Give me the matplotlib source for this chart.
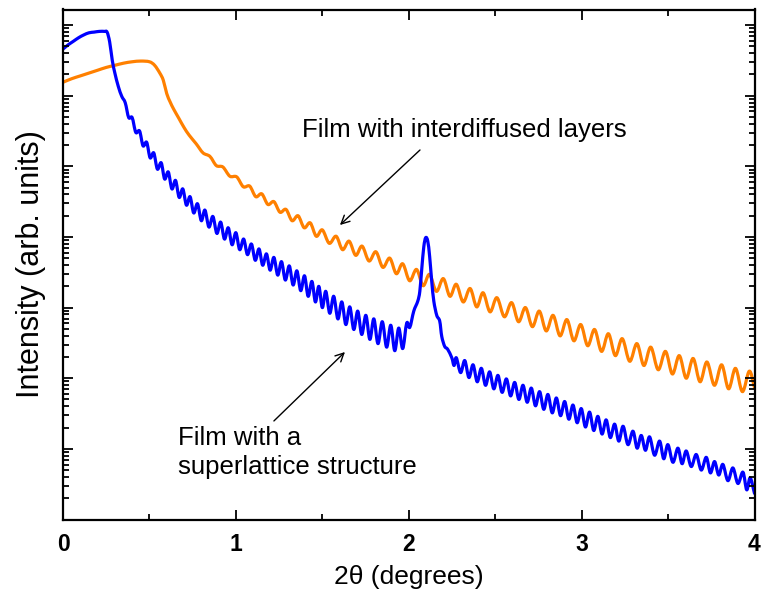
import numpy as np
import matplotlib
matplotlib.use("Agg")
import matplotlib.pyplot as plt
from matplotlib.path import Path
from matplotlib.patches import PathPatch
from matplotlib.ticker import LogLocator, NullFormatter, MultipleLocator

plt.rcParams['font.family'] = ['Liberation Sans', 'DejaVu Sans']

# ---- data: 2theta (degrees) and log10 intensity (arb. units) ----
orange_x = [0.00, 0.05, 0.10, 0.15, 0.20, 0.25, 0.30, 0.35, 0.40, 0.45, 0.50, 0.53, 0.56, 0.58,
            0.60, 0.62, 0.64, 0.67, 0.70, 0.73, 0.77,
            0.81, 0.85, 0.887, 0.925, 0.965, 1.005, 1.043, 1.08, 1.115, 1.15, 1.185, 1.22,
            1.255, 1.29, 1.325, 1.36, 1.395, 1.43, 1.465, 1.50, 1.54, 1.58, 1.617, 1.655,
            1.693, 1.73, 1.77, 1.81, 1.85, 1.89, 1.928, 1.965, 2.005, 2.045, 2.083, 2.12,
            2.16, 2.20, 2.238, 2.275, 2.315, 2.355, 2.393, 2.43, 2.47, 2.51, 2.553, 2.595,
            2.635, 2.675, 2.715, 2.755, 2.795, 2.835, 2.875, 2.915, 2.955, 2.995, 3.035, 3.075,
            3.115, 3.155, 3.195, 3.235, 3.278, 3.32, 3.36, 3.40, 3.443, 3.485, 3.525, 3.565,
            3.605, 3.645, 3.685, 3.725, 3.768, 3.81, 3.85, 3.89, 3.93, 3.97, 4.00]
orange_log = [6.19, 6.24, 6.28, 6.32, 6.36, 6.40, 6.43, 6.46, 6.48, 6.49, 6.48, 6.43, 6.32, 6.22,
              6.03, 5.91, 5.81, 5.68, 5.55, 5.44, 5.32,
              5.19, 5.14, 5.01, 4.99, 4.86, 4.85, 4.71, 4.72, 4.57, 4.61, 4.46, 4.50,
              4.35, 4.39, 4.23, 4.30, 4.13, 4.20, 4.01, 4.10, 3.91, 4.01, 3.82, 3.94,
              3.74, 3.87, 3.66, 3.79, 3.57, 3.70, 3.48, 3.62, 3.38, 3.54, 3.31, 3.47,
              3.23, 3.41, 3.16, 3.33, 3.08, 3.27, 3.01, 3.21, 2.94, 3.14, 2.87, 3.07,
              2.80, 3.00, 2.73, 2.95, 2.67, 2.89, 2.60, 2.83, 2.53, 2.76, 2.46, 2.69,
              2.38, 2.63, 2.32, 2.56, 2.24, 2.49, 2.18, 2.44, 2.12, 2.38, 2.06, 2.32,
              2.00, 2.28, 1.95, 2.23, 1.90, 2.19, 1.85, 2.14, 1.81, 2.10, 1.87]

blue_x = [0.00, 0.03, 0.06, 0.09, 0.12, 0.15, 0.18, 0.21, 0.24, 0.255, 0.27, 0.285, 0.30, 0.32,
          0.34, 0.36, 0.38, 0.40, 0.421, 0.443, 0.463, 0.484, 0.504, 0.525, 0.546, 0.568,
          0.588, 0.609, 0.63, 0.651, 0.672, 0.693, 0.714, 0.735, 0.756, 0.778, 0.80, 0.821,
          0.844, 0.867, 0.89, 0.912, 0.934, 0.956, 0.978, 1.0, 1.022, 1.045, 1.067, 1.09,
          1.112, 1.134, 1.155, 1.177, 1.198, 1.22, 1.242, 1.264, 1.286, 1.309, 1.331, 1.353,
          1.375, 1.397, 1.418, 1.44, 1.46, 1.48, 1.50, 1.52, 1.543, 1.566, 1.59, 1.613,
          1.636, 1.659, 1.682, 1.705, 1.728, 1.752, 1.775, 1.798, 1.822, 1.847, 1.872, 1.896,
          1.919, 1.942, 1.965,
          1.988, 2.006, 2.029, 2.052, 2.064, 2.075, 2.087, 2.098, 2.110, 2.121, 2.133, 2.145,
          2.162, 2.179, 2.191, 2.208, 2.225, 2.249, 2.262,
          2.275, 2.30, 2.324, 2.348, 2.372, 2.396, 2.42, 2.444, 2.468, 2.492, 2.516, 2.54,
          2.565, 2.589, 2.613, 2.637, 2.661, 2.685, 2.709, 2.733, 2.757, 2.781, 2.805, 2.83,
          2.854, 2.878, 2.902, 2.926, 2.95, 2.974, 2.998, 3.022, 3.046, 3.07, 3.094, 3.118,
          3.142, 3.166, 3.191, 3.215, 3.24, 3.268, 3.297, 3.321, 3.345, 3.369, 3.393, 3.422,
          3.451, 3.475, 3.499, 3.528, 3.557, 3.581, 3.605, 3.634, 3.663, 3.692, 3.721, 3.745,
          3.769, 3.793, 3.817, 3.846, 3.875, 3.904, 3.933, 3.955, 3.975, 4.00]
blue_log = [6.66, 6.72, 6.77, 6.82, 6.86, 6.89, 6.90, 6.91, 6.91, 6.90, 6.76, 6.50, 6.32, 6.13,
            5.99, 5.90, 5.69, 5.69, 5.48, 5.50, 5.29, 5.34, 5.12, 5.19, 4.96, 5.05,
            4.82, 4.92, 4.68, 4.80, 4.56, 4.68, 4.45, 4.57, 4.34, 4.47, 4.23, 4.38,
            4.14, 4.29, 4.05, 4.21, 3.97, 4.13, 3.89, 4.06, 3.82, 3.97, 3.75, 3.90,
            3.67, 3.83, 3.60, 3.76, 3.53, 3.71, 3.46, 3.65, 3.39, 3.59, 3.32, 3.52,
            3.24, 3.45, 3.16, 3.37, 3.08, 3.30, 3.00, 3.23, 2.92, 3.16, 2.84, 3.08,
            2.76, 3.01, 2.69, 2.95, 2.62, 2.89, 2.55, 2.84, 2.49, 2.80, 2.44, 2.75,
            2.39, 2.71, 2.42,
            2.78, 2.72, 2.95, 3.09, 3.23, 3.54, 3.86, 3.99, 3.94, 3.72, 3.37, 3.09,
            2.89, 2.81, 2.59, 2.45, 2.41, 2.29, 2.18,
            2.29, 2.08, 2.25, 2.01, 2.19, 1.95, 2.14, 1.90, 2.09, 1.85, 2.04, 1.80,
            1.99, 1.75, 1.94, 1.70, 1.90, 1.66, 1.86, 1.61, 1.81, 1.56, 1.77, 1.51,
            1.72, 1.47, 1.67, 1.42, 1.62, 1.37, 1.57, 1.31, 1.52, 1.26, 1.46, 1.21,
            1.41, 1.16, 1.35, 1.11, 1.32, 1.06, 1.25, 1.01, 1.19, 0.98, 1.17, 0.91,
            1.11, 0.86, 1.06, 0.81, 1.01, 0.79, 0.97, 0.75, 0.92, 0.70, 0.88, 0.66,
            0.82, 0.63, 0.78, 0.55, 0.73, 0.51, 0.67, 0.42, 0.59, 0.37]

x_ticks = [0, 1, 2, 3, 4]
x_tick_labels = ['0', '1', '2', '3', '4']
label_orange = 'Film with interdiffused layers'
label_blue = 'Film with a\nsuperlattice structure'

ORANGE = '#FF8000'
BLUE = '#0000FF'


def smooth_path(xs, logs):
    """Smooth curve (cubic Bezier segments) passing through every data point."""
    p = np.column_stack([xs, logs]).astype(float)
    n = len(p)
    tan = np.zeros_like(p)
    tan[1:-1] = (p[2:] - p[:-2]) / 2.0
    tan[0] = p[1] - p[0]
    tan[-1] = p[-1] - p[-2]
    verts = [p[0]]
    codes = [Path.MOVETO]
    for i in range(n - 1):
        dx = p[i + 1, 0] - p[i, 0]
        c1 = p[i] + tan[i] / 3.0
        c2 = p[i + 1] - tan[i + 1] / 3.0
        c1[0] = min(max(c1[0], p[i, 0]), p[i, 0] + dx / 2)
        c2[0] = max(min(c2[0], p[i + 1, 0]), p[i + 1, 0] - dx / 2)
        verts += [c1, c2, p[i + 1]]
        codes += [Path.CURVE4] * 3
    verts = np.array(verts)
    verts[:, 1] = 10 ** verts[:, 1]
    return Path(verts, codes)


fig = plt.figure(figsize=(7.61, 5.97), dpi=100)
ax = fig.add_axes([63 / 761, 1 - 519.5 / 597, 691.5 / 761, 510 / 597])

for xs, ls, col in [(orange_x, orange_log, ORANGE), (blue_x, blue_log, BLUE)]:
    ax.add_patch(PathPatch(smooth_path(xs, ls), fill=False, edgecolor=col, lw=2.3,
                           joinstyle='round', capstyle='round'))

ax.set_yscale('log')
ax.set_xlim(0, 4)
ax.set_ylim(1, 10 ** 7.22)

ax.set_xticks(x_ticks)
ax.set_xticklabels(x_tick_labels, fontsize=16.5, fontweight='bold')
ax.xaxis.set_minor_locator(MultipleLocator(0.5))
ax.yaxis.set_major_locator(LogLocator(base=10, numticks=20))
ax.yaxis.set_minor_locator(LogLocator(base=10, subs=np.arange(2, 10), numticks=20))
ax.yaxis.set_major_formatter(NullFormatter())
ax.yaxis.set_minor_formatter(NullFormatter())

ax.tick_params(which='both', direction='in', top=True, right=True, width=1.3)
ax.tick_params(which='major', length=7)
ax.tick_params(which='minor', length=4)
ax.tick_params(axis='x', which='major', pad=10)
for s in ax.spines.values():
    s.set_linewidth(1.6)

ax.set_xlabel('2\u03b8 (degrees)', fontsize=19, labelpad=6)
ax.set_ylabel('Intensity (arb. units)', fontsize=22, labelpad=9)

# annotations
ax.text(1.382, 10 ** 5.514, label_orange, fontsize=18.5, ha='left', va='center')
ax.text(0.665, 10 ** 0.95, label_blue, fontsize=18.5, ha='left', va='center',
        linespacing=1.3)
arrow = dict(arrowstyle='->', lw=1.0, color='black', mutation_scale=15,
             shrinkA=0, shrinkB=0)
ax.annotate('', xy=(1.602, 10 ** 4.169), xytext=(2.065, 10 ** 5.231), arrowprops=arrow)
ax.annotate('', xy=(1.631, 10 ** 2.371), xytext=(1.220, 10 ** 1.395), arrowprops=arrow)

fig.savefig('out.png', dpi=100)
